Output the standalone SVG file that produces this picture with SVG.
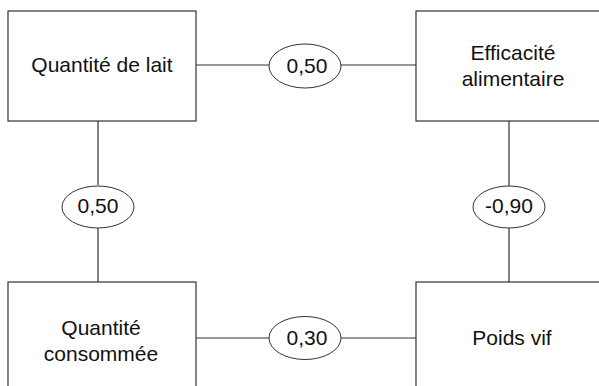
<svg xmlns="http://www.w3.org/2000/svg" width="599" height="386" viewBox="0 0 599 386">
<style>
.box{fill:#fff;stroke:#333;stroke-width:1.2}
.ell{fill:#fff;stroke:#333;stroke-width:1}
.ln{stroke:#333;stroke-width:1.2;fill:none}
text{font-family:"Liberation Sans",Arial,Helvetica,sans-serif;font-size:21px;fill:#111;text-anchor:middle}
</style>
<rect width="599" height="386" fill="#fff"/>
<g id="connectors">
<line class="ln" x1="196" y1="65" x2="270" y2="65"/>
<line class="ln" x1="340" y1="65" x2="416" y2="65"/>
<line class="ln" x1="196" y1="338" x2="270" y2="338"/>
<line class="ln" x1="340" y1="338" x2="416" y2="338"/>
<line class="ln" x1="98" y1="121" x2="98" y2="185"/>
<line class="ln" x1="98" y1="228" x2="98" y2="282"/>
<line class="ln" x1="509" y1="121" x2="509" y2="186"/>
<line class="ln" x1="509" y1="228" x2="509" y2="282"/>
</g>
<g id="n-lait">
<rect class="box" x="8" y="11" width="188" height="110"/>
<text x="102" y="72">Quantité de lait</text>
</g>
<g id="n-efficacite">
<rect class="box" x="416" y="11" width="200" height="110"/>
<text x="513" y="60">Efficacité</text>
<text x="513" y="86">alimentaire</text>
</g>
<g id="n-consommee">
<rect class="box" x="8" y="282" width="188" height="120"/>
<text x="101" y="335">Quantité</text>
<text x="101" y="361">consommée</text>
</g>
<g id="n-poids">
<rect class="box" x="416" y="282" width="200" height="120"/>
<text x="512" y="345">Poids vif</text>
</g>
<g id="c-top">
<ellipse class="ell" cx="305" cy="66" rx="36" ry="22"/>
<text x="307" y="73">0,50</text>
</g>
<g id="c-left">
<ellipse class="ell" cx="98" cy="207" rx="36" ry="21"/>
<text x="98" y="213">0,50</text>
</g>
<g id="c-right">
<ellipse class="ell" cx="509" cy="207" rx="36" ry="21"/>
<text x="509" y="213">-0,90</text>
</g>
<g id="c-bottom">
<ellipse class="ell" cx="305" cy="338" rx="36" ry="21.5"/>
<text x="307" y="345">0,30</text>
</g>
</svg>
